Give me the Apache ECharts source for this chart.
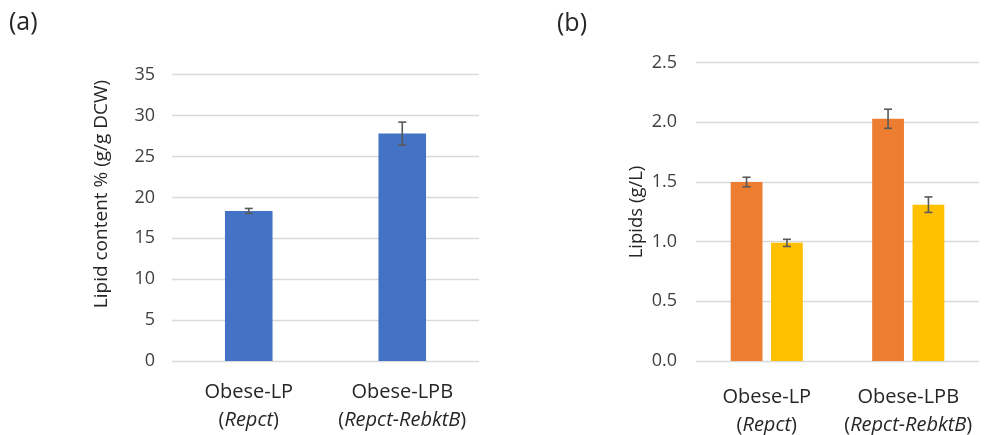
<!DOCTYPE html>
<html>
<head>
<meta charset="utf-8">
<script src="https://cdn.jsdelivr.net/npm/echarts@6/dist/echarts.min.js"></script>
<style>
html,body{margin:0;padding:0;background:#fff;}
#c{width:995px;height:435px;}
</style>
</head>
<body>
<div id="c"></div>
<script>
// ---- data ----
const categories = ['Obese-LP', 'Obese-LPB'];
const strains = ['Repct', 'Repct-RebktB'];
const lipidContent = [18.35, 27.8];
const lipidContentErr = [0.3, 1.4];
const lipidsOrange = [1.50, 2.03];
const lipidsOrangeErr = [0.04, 0.08];
const lipidsYellow = [0.99, 1.31];
const lipidsYellowErr = [0.03, 0.065];
const yTicksA = [0, 5, 10, 15, 20, 25, 30, 35];
const yTicksB = [0.0, 0.5, 1.0, 1.5, 2.0, 2.5];

const FONT = 'Open Sans';
const GRID_COLOR = '#D9D9D9';
const ERR_COLOR = '#595959';

const chart = echarts.init(document.getElementById('c'), null, {renderer: 'canvas'});

function catLabel(v, i) {
  return '{n|' + v + '}\n{n|(}{i|' + strains[i] + '}{n|)}';
}
const rich = {
  n: {fontFamily: FONT, fontSize: 20, color: '#262626', lineHeight: 28},
  i: {fontFamily: FONT, fontSize: 20, color: '#262626', fontStyle: 'italic', lineHeight: 28}
};

function errRenderer(values, errs, pos, nSeries, catGap, barGap) {
  return function (params, api) {
    const idx = params.dataIndex;
    const x = api.value(0);
    const v = values[idx], e = errs[idx];
    const top = api.coord([x, v + e]);
    const bot = api.coord([x, v - e]);
    const band = api.size([1, 0])[0];
    const bw = band * (1 - catGap) / (nSeries + (nSeries - 1) * barGap);
    const groupW = bw * nSeries + bw * barGap * (nSeries - 1);
    const cx = top[0] - groupW / 2 + pos * bw * (1 + barGap) + bw / 2;
    const cap = 4;
    const st = {stroke: ERR_COLOR, lineWidth: 1.6};
    return {
      type: 'group',
      children: [
        {type: 'line', shape: {x1: cx, y1: top[1], x2: cx, y2: bot[1]}, style: st},
        {type: 'line', shape: {x1: cx - cap, y1: top[1], x2: cx + cap, y2: top[1]}, style: st},
        {type: 'line', shape: {x1: cx - cap, y1: bot[1], x2: cx + cap, y2: bot[1]}, style: st}
      ]
    };
  };
}

const yCommon = {
  type: 'value',
  axisLine: {show: false},
  axisTick: {show: false},
  splitLine: {lineStyle: {color: GRID_COLOR, width: 1.3}},
  axisLabel: {fontFamily: FONT, fontSize: 18, color: '#404040', margin: 17}
};

const option = {
  animation: false,
  backgroundColor: '#ffffff',
  grid: [
    {left: 172, right: 516, top: 74.7, bottom: 74},
    {left: 696, right: 16, top: 62.7, bottom: 74}
  ],
  xAxis: [
    {type: 'category', gridIndex: 0, data: categories, axisLine: {show: false}, axisTick: {show: false},
     axisLabel: {margin: 17, formatter: catLabel, rich: rich, interval: 0}},
    {type: 'category', gridIndex: 1, data: categories, axisLine: {show: false}, axisTick: {show: false},
     axisLabel: {margin: 22, formatter: catLabel, rich: rich, interval: 0}}
  ],
  yAxis: [
    Object.assign({}, yCommon, {gridIndex: 0, min: yTicksA[0], max: yTicksA[yTicksA.length - 1], interval: yTicksA[1] - yTicksA[0]}),
    Object.assign({}, yCommon, {gridIndex: 1, min: yTicksB[0], max: yTicksB[yTicksB.length - 1], interval: yTicksB[1] - yTicksB[0],
      axisLabel: Object.assign({}, yCommon.axisLabel, {margin: 19, formatter: v => v.toFixed(1)})})
  ],
  series: [
    {type: 'bar', xAxisIndex: 0, yAxisIndex: 0, data: lipidContent, barCategoryGap: '69%',
     itemStyle: {color: '#4472C4'}},
    {type: 'custom', xAxisIndex: 0, yAxisIndex: 0, z: 5,
     data: categories.map((c, i) => [i, lipidContent[i]]),
     renderItem: errRenderer(lipidContent, lipidContentErr, 0, 1, 0.69, 0)},
    {type: 'bar', xAxisIndex: 1, yAxisIndex: 1, data: lipidsOrange, barCategoryGap: '49%', barGap: '27%',
     itemStyle: {color: '#ED7D31'}},
    {type: 'bar', xAxisIndex: 1, yAxisIndex: 1, data: lipidsYellow, barCategoryGap: '49%', barGap: '27%',
     itemStyle: {color: '#FFC000'}},
    {type: 'custom', xAxisIndex: 1, yAxisIndex: 1, z: 5,
     data: categories.map((c, i) => [i, lipidsOrange[i]]),
     renderItem: errRenderer(lipidsOrange, lipidsOrangeErr, 0, 2, 0.49, 0.27)},
    {type: 'custom', xAxisIndex: 1, yAxisIndex: 1, z: 5,
     data: categories.map((c, i) => [i, lipidsYellow[i]]),
     renderItem: errRenderer(lipidsYellow, lipidsYellowErr, 1, 2, 0.49, 0.27)}
  ],
  graphic: [
    {type: 'text', left: 9, top: 10, style: {text: '(a)', fontFamily: FONT, fontSize: 25, fill: '#262626'}},
    {type: 'text', left: 557, top: 11, style: {text: '(b)', fontFamily: FONT, fontSize: 25, fill: '#262626'}},
    {type: 'text', x: 101.7, y: 194, rotation: Math.PI / 2,
     style: {text: 'Lipid content % (g/g DCW)', fontFamily: FONT, fontSize: 19, fill: '#262626',
             align: 'center', verticalAlign: 'middle'}},
    {type: 'text', x: 636.7, y: 212, rotation: Math.PI / 2,
     style: {text: 'Lipids (g/L)', fontFamily: FONT, fontSize: 18.5, fill: '#262626',
             align: 'center', verticalAlign: 'middle'}}
  ]
};
chart.setOption(option);
</script>
</body>
</html>
